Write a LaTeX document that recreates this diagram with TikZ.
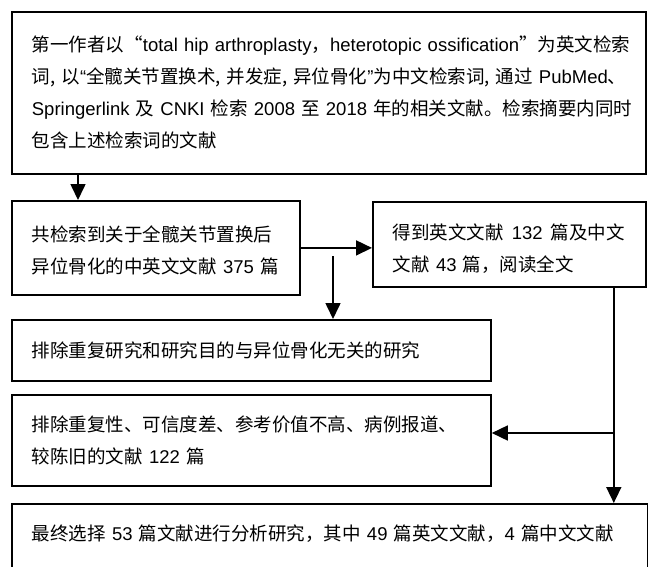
\documentclass[tikz,border=0pt]{standalone}
\usepackage{fontspec}
\setmainfont{Noto Sans CJK SC}
\newfontfamily\en{Liberation Sans}
\newcommand\E[1]{{\en #1}}
\usetikzlibrary{arrows.meta}
\begin{document}
\begin{tikzpicture}[x=1pt,y=-1pt,
  box/.style={draw=black,line width=1.8pt,rectangle,anchor=north west,
    inner xsep=20pt,inner ysep=0pt,align=left,
    font=\fontsize{18.5}{32}\selectfont},
  arr/.style={line width=1.6pt,-{Triangle[length=16pt,width=15pt]}}]
\useasboundingbox[fill=white] (0,0) rectangle (648,566);
\node[box,text width=594pt,minimum height=162pt] (b1) at (11,11)
  {\mbox{第一作者以“\E{total hip arthroplasty}，\E{heterotopic ossification}”为英文检索}\\
   \mbox{词,\hspace{6pt}以\E{“}全髋关节置换术,\hspace{6pt}并发症,\hspace{6pt}异位骨化\E{”}为中文检索词,\hspace{6pt}通过 \E{PubMed}、}\\
   \mbox{\E{Springerlink} 及 \E{CNKI} 检索 \E{2008} 至 \E{2018} 年的相关文献。检索摘要内同时}\\
   \mbox{包含上述检索词的文献}};
\node[box,text width=248pt,minimum height=94pt] (b2) at (11,200)
  {\rule{0pt}{20pt}共检索到关于全髋关节置换后\\异位骨化的中英文文献 \E{375} 篇};
\node[box,text width=233pt,minimum height=85pt] (b3) at (372,201)
  {\mbox{\rule{0pt}{24pt}得到英文文献\hspace{8pt}\E{132}\hspace{8pt}篇及中文}\\文献 \E{43} 篇，阅读全文};
\node[box,text width=439pt,minimum height=61pt] (b4) at (11,319)
  {排除重复研究和研究目的与异位骨化无关的研究};
\node[box,text width=439pt,minimum height=91pt] (b5) at (11,394)
  {\mbox{排除重复性、可信度差、参考价值不高、病例报道、}\\较陈旧的文献 \E{122} 篇};
\node[box,text width=596pt,inner ysep=21pt,text depth=70pt] (b6) at (11,503)
  {最终选择 \E{53} 篇文献进行分析研究，其中 \E{49} 篇英文文献，\E{4} 篇中文文献};
\draw[arr] ([xshift=67pt]b1.south west) -- ([xshift=67pt]b2.north west);
\draw[arr] (b2.east) -- (b2.east -| b3.west);
\coordinate (c1) at (333,256);
\draw[arr] (c1) -- (c1 |- b4.north);
\coordinate (c2) at ([xshift=-33pt]b3.south east);
\draw[arr] (c2) -- (c2 |- b6.north);
\coordinate (j) at (c2 |- 0,433);
\draw[arr] (j) -- (j -| b5.east);
\end{tikzpicture}
\end{document}
